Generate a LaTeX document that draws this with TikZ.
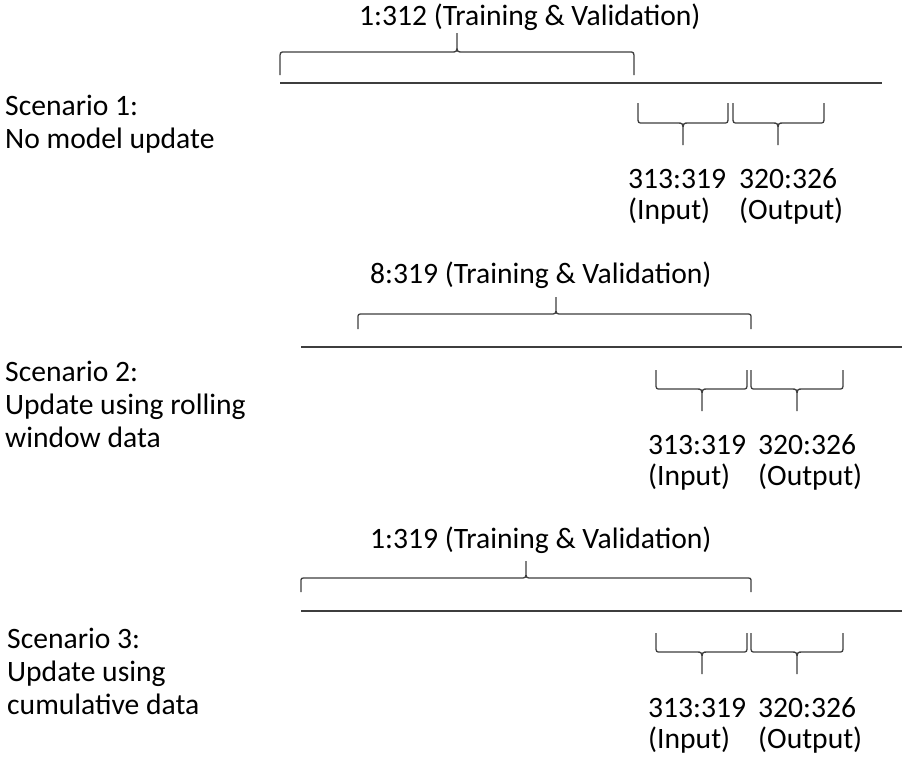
\documentclass[tikz,border=0pt]{standalone}
\usepackage{fontspec}
\setmainfont{Carlito}
\definecolor{lngray}{RGB}{62,62,62}
\tikzset{
  txt/.style={font=\fontsize{29.6}{33}\selectfont,inner sep=0pt,
              anchor=base west,align=left},
  iotxt/.style={txt,font=\fontsize{29.6}{31}\selectfont},
  tline/.style={draw=lngray,line width=1.8pt},
  brc/.style={draw=lngray,line width=1.3pt},
}

\begin{document}
\begin{tikzpicture}[x=1pt,y=-1pt]
  \useasboundingbox (0,0) rectangle (902,758);

  % scenario texts (placed at the baseline of the last line)
  \node[txt](sc1) at (5,148) {Scenario 1:\\No model update};
  \node[txt](sc2) at (5,447) {Scenario 2:\\Update using rolling\\window data};
  \node[txt](sc3) at (7,714) {Scenario 3:\\Update using\\cumulative data};

  % training windows
  \node[txt](tv1) at (359,25)  {1:312 (Training \& Validation)};
  \node[txt](tv2) at (370,283) {8:319 (Training \& Validation)};
  \node[txt](tv3) at (370,548) {1:319 (Training \& Validation)};

  % input / output windows
  \node[iotxt](in1)  at (628,219) {313:319\\(Input)};
  \node[iotxt](out1) at (739,219) {320:326\\(Output)};
  \node[iotxt](in2)  at (648,485) {313:319\\(Input)};
  \node[iotxt](out2) at (758,485) {320:326\\(Output)};
  \node[iotxt](in3)  at (648,748) {313:319\\(Input)};
  \node[iotxt](out3) at (758,748) {320:326\\(Output)};

  % time lines
  \draw[tline] (280,83)  -- (882,83);
  \draw[tline] (301,347) -- (902,347);
  \draw[tline] (301,611) -- (902,611);

  % braces: left x / tip x / right x / end y / flat y / tip y
  \foreach \xa/\xt/\xb/\ye/\yf/\yt in {280/457/634/75/52/33,
      358/556/751/329/314/297, 301/526/751/592/578/561,
      638/683/728/103/123/145, 733/778/824/103/123/145,
      656/702/747/370/389/411, 751/797/843/370/389/411,
      656/702/747/633/652/674, 751/797/843/633/652/674}{
    \draw[brc] (\xa,\ye) -- ({\xa},{\yf+0.3*(\ye-\yf)})
      .. controls (\xa,\yf) .. ({\xa+5},\yf) -- ({\xt-6},\yf)
      .. controls (\xt,\yf) .. ({\xt},{\yf+0.4*(\yt-\yf)}) -- (\xt,\yt)
      -- ({\xt},{\yf+0.4*(\yt-\yf)}) .. controls (\xt,\yf) .. ({\xt+6},\yf)
      -- ({\xb-5},\yf) .. controls (\xb,\yf) .. ({\xb},{\yf+0.3*(\ye-\yf)})
      -- (\xb,\ye);
  }
\end{tikzpicture}
\end{document}
